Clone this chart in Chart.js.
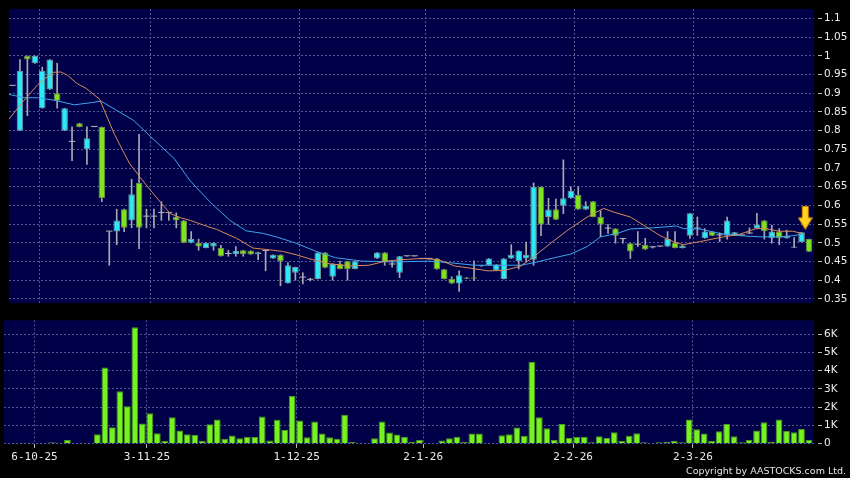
<!DOCTYPE html>
<html>
<head>
<meta charset="utf-8">
<script src="https://cdn.jsdelivr.net/npm/chart.js@4.4.1/dist/chart.umd.min.js"></script>
<style>
  html, body { margin: 0; padding: 0; background: #000; }
  #wrap { position: relative; width: 850px; height: 478px; overflow: hidden; background: #000; }
  #priceCanvas { position: absolute; left: 0; top: 0; }
  #volCanvas { position: absolute; left: 0; top: 312px; }
  #copy { position: absolute; right: 4px; top: 465px; line-height: 12px; color: #e6e6e6;
          font-family: "DejaVu Sans", sans-serif; font-size: 9.5px; white-space: nowrap; }
</style>
</head>
<body>
<div id="wrap">
  <canvas id="priceCanvas" width="850" height="312"></canvas>
  <canvas id="volCanvas" width="850" height="166"></canvas>
  <div id="copy">Copyright by AASTOCKS.com Ltd.</div>
</div>
<script>
// first candle sits just left of the plot edge
var firstIndex = -1;

var opens = [
  0.92,
  0.80, 1.00, 0.98, 0.86, 0.91, 0.90, 0.80, 0.77, 0.82, 0.75,
  0.81, 0.81, 0.53, 0.53, 0.59, 0.56, 0.66, 0.57, 0.57, 0.58,
  0.58, 0.57, 0.56, 0.50, 0.50, 0.486, 0.49, 0.486, 0.47, 0.47,
  0.48, 0.479, 0.47, 0.478, 0.458, 0.468, 0.392, 0.42, 0.407, 0.401,
  0.403, 0.474, 0.409, 0.444, 0.451, 0.43, null, null, 0.458, 0.474,
  0.442, 0.42, 0.464, 0.464, 0.457, 0.457, 0.458, 0.429, 0.403, 0.391,
  0.407, 0.407, 0.437, 0.44, 0.426, 0.403, 0.458, 0.451, 0.458, 0.455,
  0.65, 0.569, 0.59, 0.599, 0.619, 0.628, 0.589, 0.611, 0.569, 0.538,
  0.538, 0.51, 0.499, 0.495, 0.495, 0.488, 0.49, 0.49, 0.50, 0.486,
  0.519, 0.538, 0.512, 0.53, 0.52, 0.519, 0.519, 0.52, 0.525, 0.538,
  0.56, 0.512, 0.53, 0.512, 0.487, 0.502, 0.51
];
var highs = [
  0.92,
  0.99, 1.00, 1.00, 0.97, 0.99, 0.98, 0.86, 0.81, 0.82, 0.81,
  0.81, 0.81, 0.53, 0.59, 0.59, 0.67, 0.79, 0.59, 0.59, 0.61,
  0.58, 0.58, 0.56, 0.53, 0.51, 0.50, 0.50, 0.493, 0.48, 0.49,
  0.48, 0.479, 0.475, 0.478, 0.468, 0.468, 0.447, 0.435, 0.42, 0.405,
  0.474, 0.474, 0.444, 0.451, 0.451, 0.451, null, null, 0.474, 0.474,
  0.452, 0.464, 0.464, 0.464, 0.458, 0.458, 0.458, 0.429, 0.409, 0.425,
  0.407, 0.452, 0.44, 0.458, 0.442, 0.458, 0.495, 0.479, 0.502, 0.66,
  0.65, 0.619, 0.617, 0.722, 0.65, 0.65, 0.61, 0.611, 0.586, 0.549,
  0.538, 0.512, 0.499, 0.53, 0.512, 0.49, 0.49, 0.53, 0.53, 0.493,
  0.579, 0.569, 0.538, 0.53, 0.527, 0.569, 0.528, 0.52, 0.54, 0.579,
  0.56, 0.547, 0.538, 0.534, 0.514, 0.528, 0.51
];
var lows = [
  0.92,
  0.80, 0.84, 0.98, 0.86, 0.91, 0.86, 0.80, 0.72, 0.81, 0.71,
  0.81, 0.61, 0.44, 0.495, 0.53, 0.54, 0.484, 0.54, 0.54, 0.56,
  0.56, 0.54, 0.50, 0.50, 0.48, 0.486, 0.48, 0.464, 0.464, 0.464,
  0.464, 0.469, 0.455, 0.425, 0.458, 0.385, 0.392, 0.40, 0.39, 0.398,
  0.403, 0.433, 0.40, 0.43, 0.40, 0.43, null, null, 0.458, 0.44,
  0.435, 0.407, 0.464, 0.464, 0.457, 0.457, 0.429, 0.403, 0.391, 0.37,
  0.404, 0.399, 0.437, 0.44, 0.426, 0.403, 0.458, 0.43, 0.45, 0.44,
  0.519, 0.549, 0.562, 0.578, 0.619, 0.589, 0.589, 0.569, 0.516, 0.525,
  0.499, 0.499, 0.458, 0.49, 0.482, 0.486, 0.49, 0.49, 0.486, 0.486,
  0.512, 0.52, 0.512, 0.519, 0.503, 0.51, 0.519, 0.52, 0.525, 0.538,
  0.51, 0.499, 0.495, 0.512, 0.487, 0.502, 0.476
];
var closes = [
  0.92,
  0.96, 0.99, 1.00, 0.96, 0.99, 0.88, 0.86, 0.77, 0.81, 0.78,
  0.81, 0.62, 0.53, 0.56, 0.54, 0.63, 0.54, 0.57, 0.57, 0.58,
  0.58, 0.56, 0.50, 0.51, 0.49, 0.50, 0.50, 0.464, 0.47, 0.479,
  0.47, 0.469, 0.475, 0.478, 0.468, 0.451, 0.44, 0.435, 0.407, 0.401,
  0.474, 0.433, 0.444, 0.43, 0.43, 0.451, null, null, 0.474, 0.447,
  0.442, 0.464, 0.464, 0.464, 0.457, 0.457, 0.429, 0.403, 0.391, 0.413,
  0.404, 0.404, 0.44, 0.458, 0.442, 0.458, 0.468, 0.479, 0.468, 0.65,
  0.549, 0.589, 0.562, 0.619, 0.639, 0.589, 0.599, 0.569, 0.549, 0.538,
  0.519, 0.51, 0.477, 0.495, 0.482, 0.488, 0.49, 0.51, 0.486, 0.493,
  0.579, 0.538, 0.53, 0.519, 0.52, 0.56, 0.528, 0.52, 0.525, 0.549,
  0.531, 0.53, 0.512, 0.519, 0.49, 0.528, 0.476
];
var volumes = [
  0,
  30, 50, 50, 0, 0, 70, 50, 200, 0, 50,
  0, 520, 4180, 900, 2870, 2050, 6390, 1110, 1670, 570,
  140, 1450, 720, 520, 470, 160, 1060, 1330, 270, 450,
  300, 360, 360, 1490, 170, 1310, 750, 2620, 1270, 350,
  1220, 560, 350, 270, 1590, 90, 50, 0, 300, 1220,
  610, 500, 380, 100, 200, 0, 0, 170, 300, 380,
  100, 550, 560, 0, 0, 460, 510, 880, 430, 4500,
  1450, 840, 200, 1080, 310, 360, 380, 70, 410, 310,
  630, 140, 430, 570, 70, 20, 70, 110, 160, 70,
  1330, 790, 560, 140, 680, 1080, 410, 70, 200, 720,
  1170, 110, 1330, 700, 630, 810, 220
];

// moving averages as [candle index, price]
var maShort = [
  [-1.5, 0.83], [0.5, 0.88], [2.4, 0.923], [4.4, 0.956], [5.5, 0.957], [6.4, 0.948],
  [7.6, 0.927], [8.9, 0.913], [10.7, 0.884], [12.7, 0.79], [14.7, 0.713], [16.2, 0.674],
  [17.6, 0.639], [18.9, 0.608], [20.2, 0.578], [21.6, 0.567], [22.9, 0.56], [24.7, 0.547],
  [26.4, 0.536], [29.1, 0.512], [31.3, 0.486], [33.6, 0.481], [35.3, 0.477], [37.1, 0.468],
  [39.3, 0.455], [41.6, 0.444], [44.2, 0.438], [46.9, 0.44], [49.1, 0.451], [51.3, 0.455],
  [54, 0.458], [56.2, 0.455], [58.4, 0.438], [60.2, 0.433], [62.9, 0.425], [65.1, 0.426],
  [67.3, 0.438], [69.1, 0.464], [71.3, 0.499], [73.6, 0.534], [76.2, 0.569], [78.4, 0.592],
  [79.8, 0.582], [82, 0.569], [83.8, 0.547], [86, 0.519], [87.8, 0.503], [89.1, 0.495],
  [91.3, 0.503], [94, 0.514], [96.7, 0.523], [98.9, 0.538], [100.2, 0.538], [102, 0.531],
  [103.8, 0.531], [105.1, 0.525]
];
var maLong = [
  [-1.5, 0.897], [0.7, 0.888], [2.4, 0.888], [4.7, 0.881], [7.3, 0.869], [9.6, 0.875],
  [10.9, 0.879], [13.1, 0.853], [15.3, 0.827], [17.6, 0.783], [20.7, 0.726], [22.9, 0.665],
  [25.6, 0.608], [28.2, 0.56], [30.4, 0.532], [32.7, 0.525], [34.4, 0.516], [37.1, 0.499],
  [39.8, 0.477], [42.4, 0.46], [46, 0.451], [50.4, 0.449], [54.9, 0.451], [57.6, 0.447],
  [61.1, 0.44], [63.8, 0.44], [67.3, 0.44], [69.1, 0.447], [71.8, 0.46], [74, 0.47],
  [76.2, 0.49], [78, 0.516], [80.2, 0.525], [82, 0.537], [85.1, 0.54], [88.2, 0.545],
  [89.1, 0.538], [91.3, 0.537], [94, 0.525], [96.7, 0.519], [99.3, 0.516], [102, 0.516],
  [103.8, 0.519], [105.1, 0.523]
];

// yellow marker arrow: [candle index, price]
var markerPoint = [105.5, 0.567];

var dateLabels = ['6-10-25', '3-11-25', '1-12-25', '2-1-26', '2-2-26', '2-3-26'];
var dateTickIdx = [2.6, 17.6, 37.6, 54.5, 74.5, 90.5];
var priceTicks = [0.35, 0.4, 0.45, 0.5, 0.55, 0.6, 0.65, 0.7, 0.75, 0.8, 0.85, 0.9, 0.95, 1, 1.05, 1.1];
var volTicks = [0, 1000, 2000, 3000, 4000, 5000, 6000];
var volTickLabels = ['0', '1K', '2K', '3K', '4K', '5K', '6K'];

var idx = opens.map(function (v, k) { return k + firstIndex; });

var upColor = '#2ee8f6', upEdge = '#6a9aa2';
var downColor = '#80e41c', downEdge = '#6e9048';
var flatColor = '#b4b4b4';
var gridColor = '#55558a';
var labelColor = '#ececec';

var plotBg = {
    id: 'plotBg',
    beforeDraw: function (chart) {
        var a = chart.chartArea, ctx = chart.ctx;
        ctx.save();
        ctx.fillStyle = '#000048';
        ctx.fillRect(a.left, a.top, a.right - a.left, a.bottom - a.top);
        ctx.restore();
    }
};

function makeArrow() {
    var c = document.createElement('canvas');
    c.width = 15; c.height = 24;
    var g = c.getContext('2d');
    g.fillStyle = '#ffd21f';
    g.strokeStyle = '#c98800';
    g.lineWidth = 1;
    g.beginPath();
    g.moveTo(4.5, 0.5); g.lineTo(10.5, 0.5); g.lineTo(10.5, 12); g.lineTo(14.5, 12);
    g.lineTo(7.5, 23.5); g.lineTo(0.5, 12); g.lineTo(4.5, 12); g.closePath();
    g.fill(); g.stroke();
    return c;
}

function candleColor(k, up, down, flat) {
    if (opens[k] == null) return flat;
    if (closes[k] > opens[k]) return up;
    if (closes[k] < opens[k]) return down;
    return flat;
}

var xMin = -1.47, xMax = 106.67;
var tickFont = { family: 'DejaVu Sans', size: 10.5 };

function setTicks(list) {
    return function (scale) {
        scale.ticks = list.map(function (v) { return { value: v }; });
    };
}

var bodyData = opens.map(function (o, k) { return o == null ? null : [o, closes[k]]; });
var wickData = highs.map(function (h, k) { return h == null ? null : [lows[k], h]; });

new Chart(document.getElementById('priceCanvas'), {
    type: 'bar',
    data: {
        labels: idx,
        datasets: [{
            type: 'scatter',
            data: [{ x: markerPoint[0], y: markerPoint[1] }],
            pointStyle: makeArrow(),
            pointRadius: 8,
            order: -1
        }, {
            type: 'line',
            data: maShort.map(function (p) { return { x: p[0], y: p[1] }; }),
            borderColor: '#d98a5a',
            borderWidth: 1,
            pointRadius: 0,
            order: 0
        }, {
            type: 'line',
            data: maLong.map(function (p) { return { x: p[0], y: p[1] }; }),
            borderColor: '#3ea6ec',
            borderWidth: 1,
            pointRadius: 0,
            order: 0
        }, {
            data: bodyData,
            backgroundColor: idx.map(function (v, k) { return candleColor(k, upColor, downColor, flatColor); }),
            borderColor: idx.map(function (v, k) { return candleColor(k, upEdge, downEdge, flatColor); }),
            borderWidth: idx.map(function (v, k) { return opens[k] === closes[k] ? 0 : 1; }),
            borderSkipped: false,
            minBarLength: 1,
            barPercentage: 0.88,
            categoryPercentage: 1,
            grouped: false,
            order: 1
        }, {
            data: wickData,
            backgroundColor: '#a8a8b0',
            barThickness: 1,
            grouped: false,
            order: 2
        }]
    },
    options: {
        responsive: false,
        animation: false,
        events: [],
        layout: { padding: { left: 4, right: 0, top: 6, bottom: 6 } },
        plugins: { legend: { display: false }, tooltip: { enabled: false } },
        scales: {
            x: {
                type: 'linear',
                offset: false,
                min: xMin,
                max: xMax,
                afterBuildTicks: setTicks(dateTickIdx),
                afterFit: function (s) { s.height = 0; },
                ticks: { display: false },
                grid: { offset: false, color: gridColor, drawTicks: false },
                border: { display: false, dash: [2, 2] }
            },
            y: {
                position: 'right',
                min: 0.339,
                max: 1.1254,
                afterBuildTicks: setTicks(priceTicks),
                afterFit: function (s) { s.width = 36; },
                ticks: { color: labelColor, font: tickFont, padding: 2,
                         callback: function (v) { return String(v); } },
                grid: { color: gridColor, tickLength: 8, tickColor: '#b8b8b8',
                        tickBorderDash: [0, 4, 4, 40] },
                border: { display: false, dash: [2, 2] }
            }
        }
    },
    plugins: [plotBg]
});

new Chart(document.getElementById('volCanvas'), {
    type: 'bar',
    data: {
        labels: idx,
        datasets: [{
            data: volumes,
            backgroundColor: '#76f21e',
            borderColor: '#4c9a1c',
            borderWidth: 1,
            borderSkipped: 'start',
            barPercentage: 0.9,
            categoryPercentage: 1
        }]
    },
    options: {
        responsive: false,
        animation: false,
        events: [],
        layout: { padding: { left: 4, right: 0, top: 6, bottom: 0 } },
        plugins: { legend: { display: false }, tooltip: { enabled: false } },
        scales: {
            x: {
                type: 'linear',
                offset: false,
                min: xMin,
                max: xMax,
                afterBuildTicks: setTicks(dateTickIdx),
                afterFit: function (s) { s.height = 34; },
                ticks: { color: labelColor, font: { family: 'DejaVu Sans Mono', size: 11 },
                         padding: 3, maxRotation: 0, autoSkip: false,
                         callback: function (v, k) { return dateLabels[k]; } },
                grid: { offset: false, color: gridColor, tickLength: 4, tickColor: '#b8b8b8' },
                border: { display: false, dash: [2, 2] }
            },
            y: {
                position: 'right',
                min: -20,
                max: 6770,
                afterBuildTicks: setTicks(volTicks),
                afterFit: function (s) { s.width = 36; },
                ticks: { color: labelColor, font: tickFont, padding: 2,
                         callback: function (v, k) { return volTickLabels[k]; } },
                grid: { color: gridColor, tickLength: 8, tickColor: '#b8b8b8',
                        tickBorderDash: [0, 4, 4, 40] },
                border: { display: false, dash: [2, 2] }
            }
        }
    },
    plugins: [plotBg]
});
</script>
</body>
</html>
